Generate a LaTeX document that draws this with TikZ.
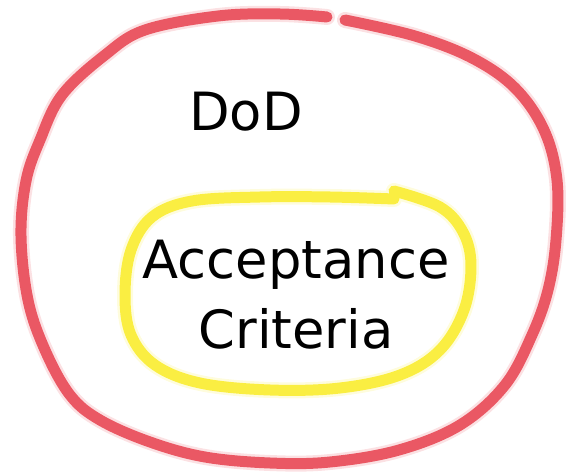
\documentclass[tikz,border=0pt]{standalone}
\usepackage{fontspec}
\setmainfont{DejaVu Sans}
\usetikzlibrary{positioning, calc}
\definecolor{dodred}{RGB}{234,88,100}
\definecolor{acyellow}{RGB}{250,238,66}
\tikzset{ring/.style={line width=11pt*0.569, line cap=round, line join=round}}
\tikzset{halo/.style={ring, line width=16pt*0.569, opacity=.18}}
\tikzset{label text/.style={inner sep=0pt, font=\fontsize{30}{40}\selectfont, align=center}}

\begin{document}
\begin{tikzpicture}[x=0.02cm, y=-0.02cm]
  \useasboundingbox (0,0) rectangle (569,476);

  % outer DoD loop, open at the top
  \foreach \st/\col in {halo/dodred, ring/dodred} {
    \draw[\st, \col] plot[smooth, tension=.6] coordinates {
      (345,20) (415,36) (472,58) (515,88) (544,130) (557,180) (556,240)
      (548,290) (532,335) (505,385) (460,425) (399,450) (330,462) (270,463)
      (205,457) (150,442) (100,420) (70,395) (45,350) (28,300) (21,236) (26,181)
      (40,140) (62,95) (105,55) (145,30) (218,16) (280,14) (327,17)};
  }

  % inner acceptance criteria loop
  \foreach \st/\col in {halo/acyellow, ring/acyellow} {
    \draw[\st, \col] plot[smooth, tension=.6] coordinates {
      (394,191) (440,207) (463,232) (471,265) (464,310) (440,350) (400,375)
      (340,388) (270,390) (200,383) (155,365) (131,335) (125,295) (131,250)
      (152,217) (192,201) (260,197) (330,197) (394,199)};
  }

  \node[label text] (dod) at (246,112) {DoD};
  \node[label text] (crit) at (296,295) {Acceptance\\Criteria};
\end{tikzpicture}
\end{document}
